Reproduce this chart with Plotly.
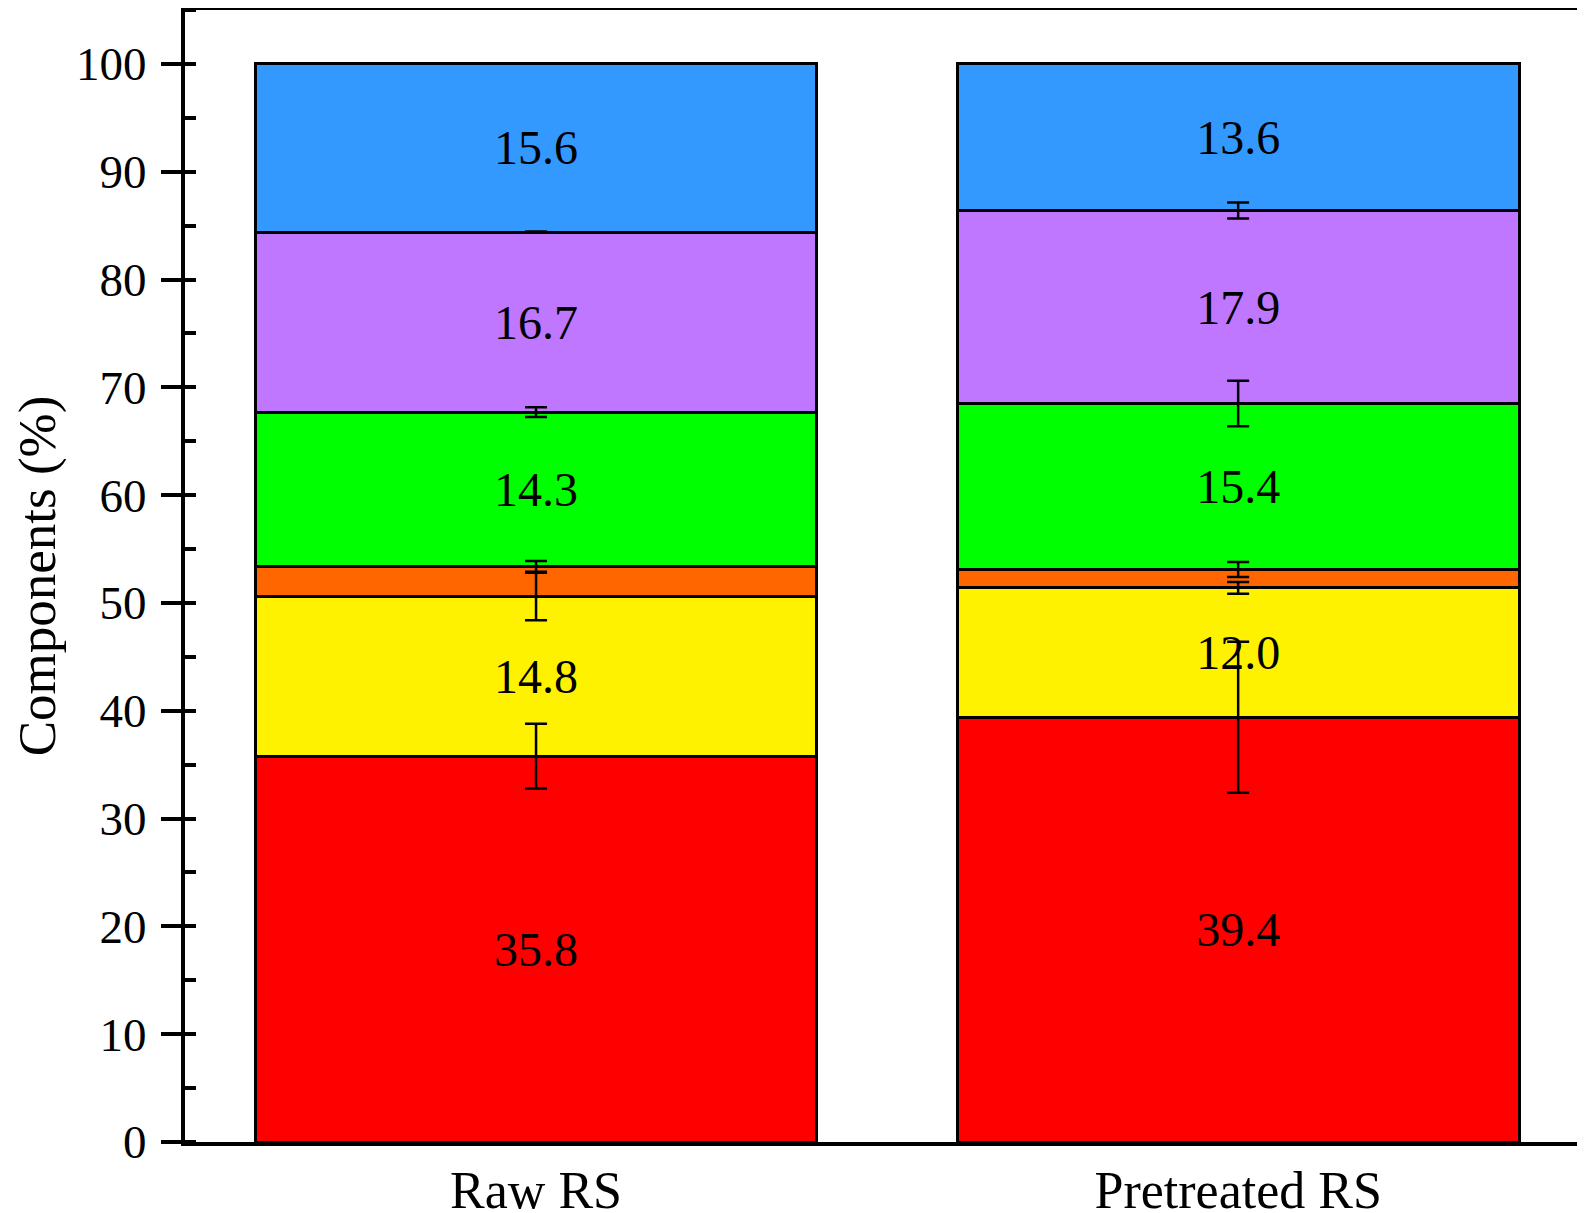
import numpy as np
import plotly.graph_objects as go

categories = ["Raw RS", "Pretreated RS"]
components = ["C1", "C2", "C3", "C4", "C5", "C6"]
colors = ["#FF0000", "#FFF200", "#FF6600", "#00FF00", "#BF77FF", "#3399FF"]

red_vals = [35.8, 39.4]
yellow_vals = [14.8, 12.0]
orange_vals = [2.8, 1.7]
green_vals = [14.3, 15.4]
purple_vals = [16.7, 17.9]
blue_vals = [15.6, 13.6]

red_err = [3.0, 7.0]
yellow_err = [2.2, 0.55]
orange_err = [0.5, 0.7]
green_err = [0.45, 2.1]
purple_err = [0.05, 0.75]
blue_err = [0.0, 0.0]

red_labels = ["35.8", "39.4"]
yellow_labels = ["14.8", "12.0"]
orange_labels = ["", ""]
green_labels = ["14.3", "15.4"]
purple_labels = ["16.7", "17.9"]
blue_labels = ["15.6", "13.6"]

y_tick_vals = [0, 10, 20, 30, 40, 50, 60, 70, 80, 90, 100]

series = [red_vals, yellow_vals, orange_vals, green_vals, purple_vals, blue_vals]
errors = [red_err, yellow_err, orange_err, green_err, purple_err, blue_err]
labels = [red_labels, yellow_labels, orange_labels, green_labels, purple_labels, blue_labels]

FONT = "Liberation Serif, Times New Roman, serif"

fig = go.Figure()
for name, vals, col, lab in zip(components, series, colors, labels):
    fig.add_trace(go.Bar(
        x=categories, y=vals, name=name,
        marker=dict(color=col, line=dict(color="black", width=3)),
        text=lab, textposition="inside", insidetextanchor="middle",
        textangle=0, constraintext="none",
        textfont=dict(family=FONT, size=48, color="black"),
        hoverinfo="skip",
    ))

cum = np.cumsum(np.array(series, dtype=float), axis=0)
for i, err in enumerate(errors):
    if max(err) <= 0:
        continue
    fig.add_trace(go.Scatter(
        x=categories, y=cum[i], mode="markers",
        marker=dict(size=1, opacity=0),
        error_y=dict(type="data", array=err, visible=True, color="black",
                     thickness=2.5, width=11),
        hoverinfo="skip", showlegend=False,
    ))

fig.update_layout(
    barmode="stack", bargap=0.2,
    width=1577, height=1205,
    margin=dict(l=177, r=0, t=2, b=71),
    plot_bgcolor="white", paper_bgcolor="white",
    showlegend=False,
    font=dict(family=FONT, color="black"),
)
fig.update_xaxes(
    range=[-0.5, 1.494], showline=True, linewidth=4, linecolor="black",
    mirror=True, ticks="", showgrid=False, zeroline=False, automargin=False,
    tickfont=dict(family=FONT, size=52, color="black"),
    ticklabelstandoff=0,
)
fig.update_yaxes(
    range=[0, 105], showline=True, linewidth=4, linecolor="black",
    mirror=False, showgrid=False, zeroline=False, automargin=False,
    tickvals=y_tick_vals, ticks="outside", ticklen=20, tickwidth=4,
    tickcolor="black",
    tickfont=dict(family=FONT, size=47, color="black"),
    ticklabelstandoff=5,
    minor=dict(ticks="inside", ticklen=11, tickwidth=4, tickcolor="black",
               dtick=5, tick0=0, showgrid=False),
    title=dict(text="Components (%)", font=dict(family=FONT, size=53, color="black"),
               standoff=7),
)

fig.write_html("out.html")
